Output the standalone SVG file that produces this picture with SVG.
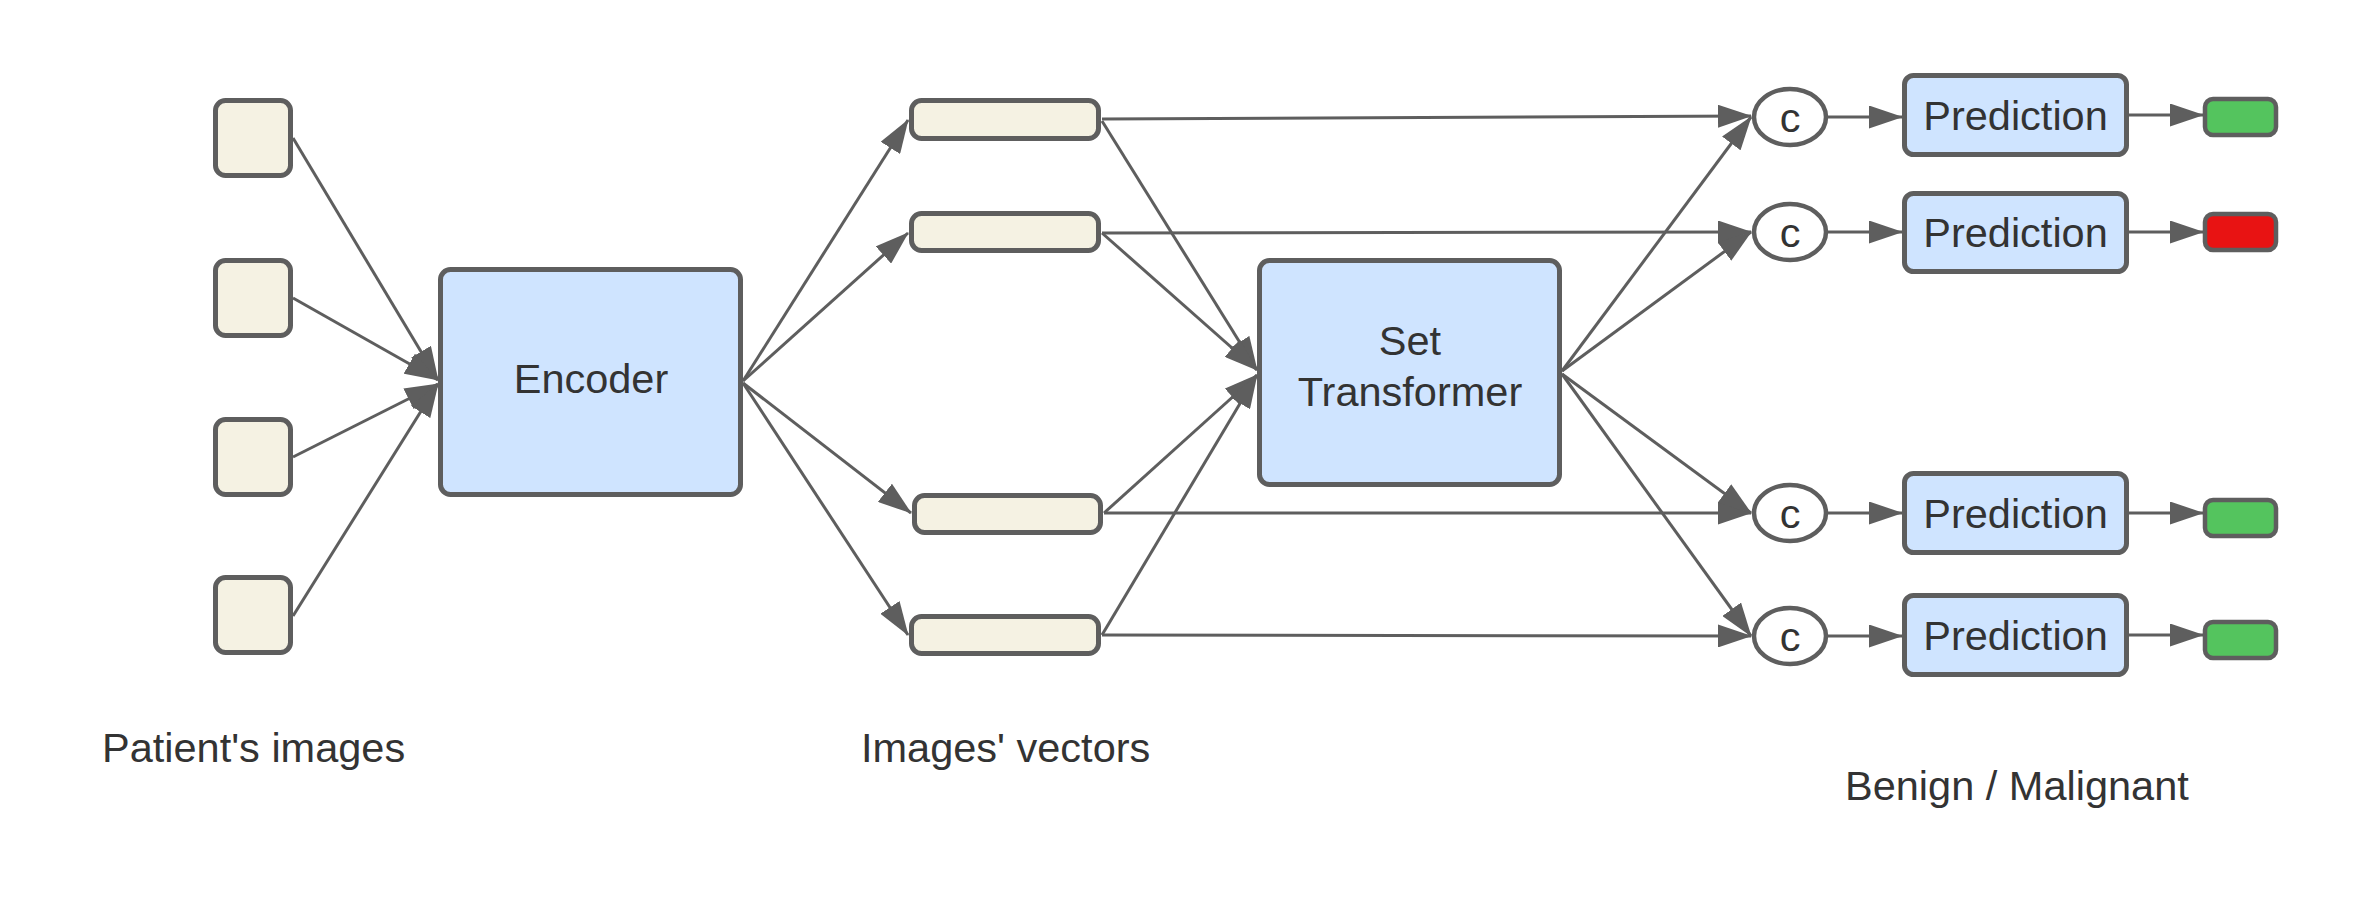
<svg xmlns="http://www.w3.org/2000/svg" width="2353" height="906" viewBox="0 0 2353 906">
<style>
.sq{fill:#f5f2e3;stroke:#5e5e5e;stroke-width:5}
.box{fill:#cfe4ff;stroke:#5e5e5e;stroke-width:5}
.el{fill:#ffffff;stroke:#5e5e5e;stroke-width:4.5}
.ok{fill:#54c45e;stroke:#5e5e5e;stroke-width:4.5}
.bad{fill:#e81313;stroke:#5e5e5e;stroke-width:4.5}
.t{font-family:"Liberation Sans",Arial,sans-serif;font-size:41.5px;fill:#333333;text-anchor:middle}
.lbl{font-family:"Liberation Sans",Arial,sans-serif;font-size:41.5px;fill:#333333}
.cn line{stroke:#5e5e5e;stroke-width:3;fill:none;marker-end:url(#ah)}
</style>
<defs>
<marker id="ah" markerUnits="userSpaceOnUse" viewBox="0 0 34 23" markerWidth="34" markerHeight="23" refX="33" refY="11.5" orient="auto">
<path d="M0,0 L34,11.5 L0,23 Z" fill="#5e5e5e"/>
</marker>
</defs>
<rect width="2353" height="906" fill="#ffffff"/>
<g id="connectors" class="cn">
<line x1="293" y1="138" x2="438" y2="380"/>
<line x1="293" y1="298" x2="438" y2="380"/>
<line x1="293" y1="457" x2="438" y2="384"/>
<line x1="293" y1="616" x2="438" y2="384"/>
<line x1="743" y1="381" x2="908" y2="120"/>
<line x1="743" y1="381" x2="908" y2="233"/>
<line x1="743" y1="383" x2="911" y2="513"/>
<line x1="743" y1="383" x2="908" y2="635"/>
<line x1="1102" y1="121" x2="1257" y2="370"/>
<line x1="1102" y1="233" x2="1257" y2="370"/>
<line x1="1104" y1="513" x2="1257" y2="375"/>
<line x1="1102" y1="635" x2="1257" y2="375"/>
<line x1="1102" y1="119" x2="1751" y2="116"/>
<line x1="1102" y1="233" x2="1751" y2="232"/>
<line x1="1104" y1="513" x2="1751" y2="513"/>
<line x1="1102" y1="635" x2="1751" y2="636"/>
<line x1="1562" y1="371" x2="1751" y2="117"/>
<line x1="1562" y1="371" x2="1751" y2="232"/>
<line x1="1562" y1="374" x2="1751" y2="513"/>
<line x1="1562" y1="374" x2="1751" y2="636"/>
<line x1="1828" y1="117" x2="1902" y2="117"/>
<line x1="1828" y1="232" x2="1902" y2="232"/>
<line x1="1828" y1="513" x2="1902" y2="513"/>
<line x1="1828" y1="636" x2="1902" y2="636"/>
<line x1="2129" y1="115" x2="2203" y2="115"/>
<line x1="2129" y1="232" x2="2203" y2="232"/>
<line x1="2129" y1="513" x2="2203" y2="513"/>
<line x1="2129" y1="635" x2="2203" y2="635"/>
</g>
<g id="img1"><rect class="sq" x="215.5" y="100.5" width="75" height="75" rx="10"/></g>
<g id="img2"><rect class="sq" x="215.5" y="260.5" width="75" height="75" rx="10"/></g>
<g id="img3"><rect class="sq" x="215.5" y="419.5" width="75" height="75" rx="10"/></g>
<g id="img4"><rect class="sq" x="215.5" y="577.5" width="75" height="75" rx="10"/></g>
<g id="encoder"><rect class="box" x="440.5" y="269.5" width="300" height="225" rx="10"/><text class="t" x="591" y="393">Encoder</text></g>
<g id="vec1"><rect class="sq" x="911.5" y="100.5" width="187" height="38" rx="10"/></g>
<g id="vec2"><rect class="sq" x="911.5" y="213.5" width="187" height="37" rx="10"/></g>
<g id="vec3"><rect class="sq" x="914.5" y="495.5" width="186" height="37" rx="10"/></g>
<g id="vec4"><rect class="sq" x="911.5" y="616.5" width="187" height="37" rx="10"/></g>
<g id="settransformer"><rect class="box" x="1259.5" y="260.5" width="300" height="224" rx="10"/><text class="t" x="1410" y="355">Set</text><text class="t" x="1410" y="406">Transformer</text></g>
<g id="c1"><ellipse class="el" cx="1790" cy="117" rx="36" ry="28"/><text class="t" x="1790" y="132">c</text></g>
<g id="c2"><ellipse class="el" cx="1790" cy="232" rx="36" ry="28"/><text class="t" x="1790" y="247">c</text></g>
<g id="c3"><ellipse class="el" cx="1790" cy="513" rx="36" ry="28"/><text class="t" x="1790" y="528">c</text></g>
<g id="c4"><ellipse class="el" cx="1790" cy="636" rx="36" ry="28"/><text class="t" x="1790" y="651">c</text></g>
<g id="pred1"><rect class="box" x="1904.5" y="75.5" width="222" height="79" rx="9"/><text class="t" x="2015.5" y="130">Prediction</text></g>
<g id="pred2"><rect class="box" x="1904.5" y="193.5" width="222" height="78" rx="9"/><text class="t" x="2015.5" y="247">Prediction</text></g>
<g id="pred3"><rect class="box" x="1904.5" y="473.5" width="222" height="79" rx="9"/><text class="t" x="2015.5" y="528">Prediction</text></g>
<g id="pred4"><rect class="box" x="1904.5" y="595.5" width="222" height="79" rx="9"/><text class="t" x="2015.5" y="650">Prediction</text></g>
<g id="out1"><rect class="ok" x="2205" y="99" width="71" height="36" rx="8"/></g>
<g id="out2"><rect class="bad" x="2205" y="214" width="71" height="36" rx="8"/></g>
<g id="out3"><rect class="ok" x="2205" y="500" width="71" height="36" rx="8"/></g>
<g id="out4"><rect class="ok" x="2205" y="622" width="71" height="36" rx="8"/></g>
<g id="labels">
<text class="lbl" x="102" y="762">Patient's images</text>
<text class="lbl" x="861" y="762">Images' vectors</text>
<text class="lbl" x="1845" y="800">Benign / Malignant</text>
</g>
</svg>
